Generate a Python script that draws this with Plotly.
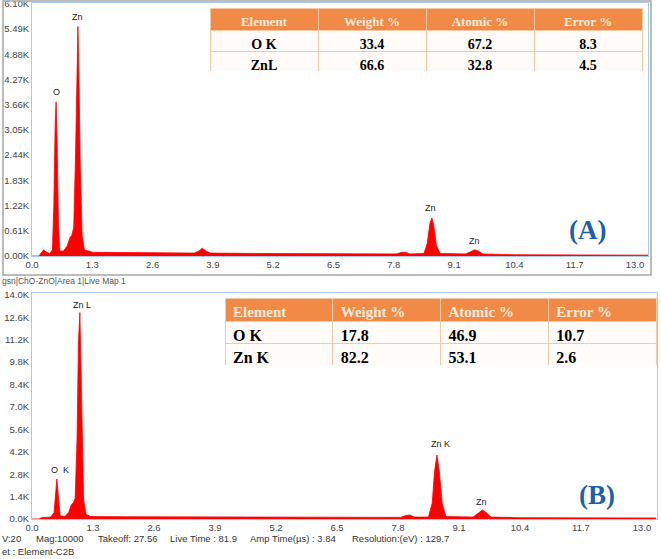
import plotly.graph_objects as go

# spectrum A (energy keV, counts in K)
energy_a = [0.0, 0.15, 0.2, 0.25, 0.3, 0.38, 0.44, 0.47, 0.5, 0.52, 0.54, 0.57, 0.6, 0.68, 0.76, 0.82,
            0.86, 0.9, 0.94, 0.97, 0.99, 1.01, 1.04, 1.08, 1.13, 1.3, 2.0, 3.0, 3.5, 3.6, 3.67, 3.75,
            3.85, 5.0, 6.5, 7.85, 7.98, 8.05, 8.15, 8.45, 8.52, 8.58, 8.62, 8.66, 8.72, 8.8, 9.35,
            9.45, 9.55, 9.62, 9.72, 10.4, 13.3]
counts_a = [0.0, 0.0, 0.08, 0.15, 0.1, 0.06, 0.15, 1.2, 3.2, 3.73, 2.8, 0.8, 0.12, 0.12, 0.25, 0.45,
            0.5, 0.7, 2.5, 4.8, 5.55, 4.5, 2.2, 0.5, 0.15, 0.09, 0.08, 0.07, 0.07, 0.12, 0.19, 0.12,
            0.07, 0.06, 0.05, 0.05, 0.09, 0.09, 0.05, 0.06, 0.3, 0.8, 0.92, 0.75, 0.25, 0.06, 0.05,
            0.1, 0.15, 0.12, 0.05, 0.03, 0.02]

# spectrum B
energy_b = [0.0, 0.15, 0.2, 0.3, 0.4, 0.47, 0.5, 0.53, 0.56, 0.6, 0.7, 0.78, 0.84, 0.88, 0.92, 0.96,
            0.99, 1.02, 1.04, 1.07, 1.1, 1.15, 1.25, 2.0, 3.0, 4.0, 5.5, 7.0, 7.85, 7.95, 8.05, 8.15,
            8.45, 8.53, 8.58, 8.63, 8.68, 8.74, 8.82, 9.4, 9.5, 9.6, 9.68, 9.78, 10.4, 13.3]
counts_b = [0.0, 0.0, 0.08, 0.1, 0.12, 0.4, 1.8, 2.5, 1.5, 0.2, 0.15, 0.4, 0.9, 1.0, 1.3, 5.0,
            11.0, 12.9, 10.0, 4.0, 1.2, 0.3, 0.15, 0.14, 0.13, 0.12, 0.12, 0.1, 0.1, 0.2, 0.25, 0.12,
            0.12, 1.0, 3.0, 4.0, 3.0, 1.0, 0.15, 0.12, 0.35, 0.56, 0.4, 0.12, 0.08, 0.06]

x_ticks = [0.0, 1.3, 2.6, 3.9, 5.2, 6.5, 7.8, 9.1, 10.4, 11.7, 13.0]
x_ticklabels = ["0.0", "1.3", "2.6", "3.9", "5.2", "6.5", "7.8", "9.1", "10.4", "11.7", "13.0"]
y_ticks_a = [0, 0.61, 1.22, 1.83, 2.44, 3.05, 3.66, 4.27, 4.88, 5.49, 6.10]
y_ticklabels_a = ["0.00K", "0.61K", "1.22K", "1.83K", "2.44K", "3.05K", "3.66K", "4.27K", "4.88K", "5.49K", "6.10K"]
y_ticks_b = [0, 1.4, 2.8, 4.2, 5.6, 7.0, 8.4, 9.8, 11.2, 12.6, 14.0]
y_ticklabels_b = ["0.0K", "1.4K", "2.8K", "4.2K", "5.6K", "7.0K", "8.4K", "9.8K", "11.2K", "12.6K", "14.0K"]

# peak labels
peak_a_x = [0.52, 0.99, 8.6, 9.53]
peak_a_y = [3.97, 5.79, 1.16, 0.36]
peak_a_text = ["O", "Zn", "Zn", "Zn"]
peak_b_x = [0.6, 1.07, 8.7, 9.57]
peak_b_y = [3.06, 13.4, 4.7, 1.06]
peak_b_text = ["O  K", "Zn L", "Zn K", "Zn"]

# quantification tables
table_header = ["Element", "Weight %", "Atomic %", "Error %"]
table_a = [["O K", "ZnL"], ["33.4", "66.6"], ["67.2", "32.8"], ["8.3", "4.5"]]
table_b = [["O K", "Zn K"], ["17.8", "82.2"], ["46.9", "53.1"], ["10.7", "2.6"]]

W, H = 661, 559
def px(x):
    return x / W
def py(y):
    return 1 - y / H

red = "#FF0000"
frame = "#A9CBE8"
orange = "#F08A46"

fig = go.Figure()
fig.add_trace(go.Scatter(x=energy_a, y=counts_a, mode="lines", fill="tozeroy", fillcolor=red,
                         line=dict(color=red, width=0.8), xaxis="x", yaxis="y", hoverinfo="skip"))
fig.add_trace(go.Scatter(x=energy_b, y=counts_b, mode="lines", fill="tozeroy", fillcolor=red,
                         line=dict(color=red, width=0.8), xaxis="x2", yaxis="y2", hoverinfo="skip"))

fig.add_trace(go.Table(
    domain=dict(x=[px(210), px(642)], y=[py(71), py(8)]),
    columnwidth=[1, 1, 1, 1],
    header=dict(values=table_header, fill_color=orange, align="center", height=22,
                line=dict(color="#F5C9A6", width=1),
                font=dict(family="Liberation Serif", size=13, color="#FDEBDC", weight="bold")),
    cells=dict(values=table_a, fill_color="#FFFBF8", align="center", height=21,
               line=dict(color="#F5C9A6", width=1),
               font=dict(family="Liberation Serif", size=14, color="black", weight="bold"))))

fig.add_trace(go.Table(
    domain=dict(x=[px(225), px(656)], y=[py(366), py(298)]),
    columnwidth=[1, 1, 1, 1],
    header=dict(values=table_header, fill_color=orange, align="left", height=23,
                line=dict(color="#F5C9A6", width=1),
                font=dict(family="Liberation Serif", size=15, color="#FDEBDC", weight="bold")),
    cells=dict(values=table_b, fill_color="#FFFBF8", align="left", height=22,
               line=dict(color="#F5C9A6", width=1),
               font=dict(family="Liberation Serif", size=16, color="black", weight="bold"))))

tickfont = dict(family="Liberation Sans", size=9.5, color="#444")
axis_common = dict(showgrid=False, zeroline=False, showline=True, mirror=True, linecolor=frame,
                   linewidth=1, ticks="", tickfont=tickfont, fixedrange=True, automargin=False,
                   ticklabeloverflow="allow")

fig.update_layout(
    width=W, height=H, margin=dict(l=0, r=0, t=0, b=0, autoexpand=False),
    paper_bgcolor="white", plot_bgcolor="white", showlegend=False,
    xaxis=dict(domain=[px(32), px(648)], range=[0, 13.28], anchor="y",
               tickvals=x_ticks, ticktext=x_ticklabels, **axis_common),
    yaxis=dict(domain=[py(256), py(3)], range=[0, 6.12], anchor="x",
               tickvals=y_ticks_a, ticktext=y_ticklabels_a, **axis_common),
    xaxis2=dict(domain=[px(32), px(657)], range=[0, 13.32], anchor="y2",
                tickvals=x_ticks, ticktext=x_ticklabels, **axis_common),
    yaxis2=dict(domain=[py(519), py(293)], range=[0, 14.12], anchor="x2",
                tickvals=y_ticks_b, ticktext=y_ticklabels_b, **axis_common),
)

# outer frame of panel A
fig.add_shape(type="rect", xref="paper", yref="paper", x0=px(3), x1=px(651), y0=py(275), y1=py(1),
              line=dict(color="#A6A6A6", width=1.5))

for x, y, t in zip(peak_a_x, peak_a_y, peak_a_text):
    fig.add_annotation(x=x, y=y, xref="x", yref="y", text=t, showarrow=False, yanchor="middle",
                       font=dict(family="Liberation Sans", size=9, color="#222"))
for x, y, t in zip(peak_b_x, peak_b_y, peak_b_text):
    fig.add_annotation(x=x, y=y, xref="x2", yref="y2", text=t, showarrow=False, yanchor="middle",
                       font=dict(family="Liberation Sans", size=9, color="#222"))

fig.add_annotation(x=px(608), y=py(230), xref="paper", yref="paper", text="<b>(A)</b>", showarrow=False,
                   yanchor="middle", font=dict(family="Liberation Serif", size=27, color="#1F5FA8"))
fig.add_annotation(x=px(617), y=py(495), xref="paper", yref="paper", text="<b>(B)</b>", showarrow=False,
                   yanchor="middle", font=dict(family="Liberation Serif", size=27, color="#1F5FA8"))

# instrument info lines
info = [(0, "V:20"), (34, "Mag:10000"), (96, "Takeoff: 27.56"), (168, "Live Time : 81.9"),
        (248, "Amp Time(\u00b5s) : 3.84"), (350, "Resolution:(eV) : 129.7")]
for x, t in info:
    fig.add_annotation(x=px(x), y=py(538), xref="paper", yref="paper", text=t, showarrow=False,
                       xanchor="left", yanchor="middle",
                       font=dict(family="Liberation Sans", size=9.5, color="#333"))
fig.add_annotation(x=0, y=py(551), xref="paper", yref="paper", text="et : Element-C2B", showarrow=False,
                   xanchor="left", yanchor="middle", font=dict(family="Liberation Sans", size=9.5, color="#333"))
fig.add_annotation(x=0, y=py(281), xref="paper", yref="paper", text="gsn|ChO-ZnO|Area 1|Live Map 1",
                   showarrow=False, xanchor="left", yanchor="middle",
                   font=dict(family="Liberation Sans", size=8.5, color="#555"))

# the page body has a default 8px margin, drop it so the figure fills the window
fig.write_html("out.html", config={"displayModeBar": False},
               post_script="document.body.style.margin='0';")
